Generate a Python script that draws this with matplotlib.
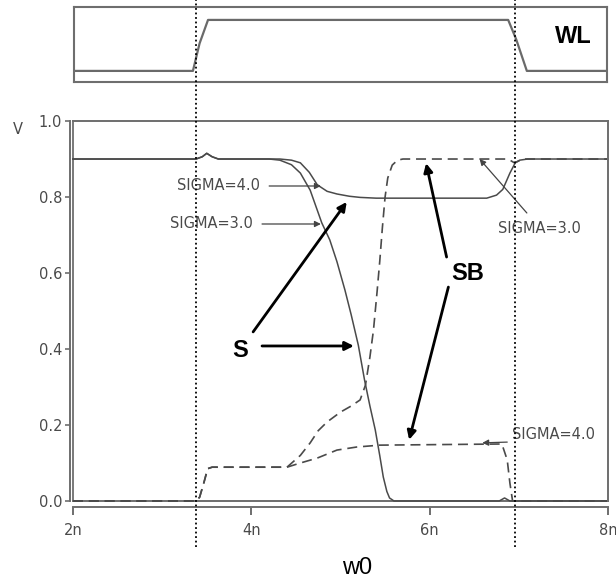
import matplotlib
matplotlib.use("Agg")
import matplotlib.pyplot as plt
from matplotlib.lines import Line2D
from matplotlib.transforms import blended_transform_factory

# word line drive (top panel), time in ns
wl_t = [2.0, 3.34, 3.415, 3.51, 6.89, 6.98, 7.10, 8.0]
wl_v = [0.0, 0.0, 0.54, 1.0, 1.0, 0.62, 0.0, 0.0]

# S node, SIGMA=4.0 (solid)
s4_t = [2.0, 3.38, 3.45, 3.5, 3.56, 3.63, 4.2, 4.32, 4.45, 4.55, 4.65, 4.74,
        4.85, 4.96, 5.1, 5.22, 5.4, 6.64, 6.75, 6.82, 6.9, 6.96, 7.01, 7.1, 8.0]
s4_v = [0.9, 0.9, 0.906, 0.915, 0.906, 0.9, 0.9, 0.9, 0.897, 0.89, 0.865, 0.832,
        0.815, 0.808, 0.802, 0.799, 0.797, 0.797, 0.805, 0.82, 0.863, 0.89, 0.897,
        0.9, 0.9]

# S node, SIGMA=3.0 (solid)
s3_t = [2.0, 3.38, 3.45, 3.5, 3.56, 3.63, 4.2, 4.32, 4.45, 4.55, 4.66, 4.79,
        4.88, 4.96, 5.05, 5.12, 5.2, 5.27, 5.33, 5.39, 5.44, 5.48, 5.52, 5.55,
        5.6, 6.78, 6.84, 6.9, 8.0]
s3_v = [0.9, 0.9, 0.906, 0.915, 0.906, 0.9, 0.9, 0.897, 0.885, 0.863, 0.818, 0.732,
        0.687, 0.63, 0.555, 0.49, 0.41, 0.318, 0.25, 0.187, 0.12, 0.063, 0.025, 0.008,
        0.0, 0.0, 0.008, 0.0, 0.0]

# SB node, SIGMA=3.0 (dashed)
sb3_t = [2.0, 3.38, 3.42, 3.47, 3.51, 3.56, 4.40, 4.55, 4.66, 4.75, 4.85, 5.0,
         5.12, 5.22, 5.28, 5.33, 5.37, 5.41, 5.44, 5.47, 5.5, 5.53, 5.58, 5.64,
         5.7, 6.88, 6.95, 7.05, 8.0]
sb3_v = [0.0, 0.0, 0.01, 0.05, 0.085, 0.089, 0.089, 0.12, 0.153, 0.185, 0.208, 0.234,
         0.25, 0.266, 0.305, 0.379, 0.45, 0.55, 0.63, 0.72, 0.80, 0.85, 0.884, 0.897,
         0.9, 0.9, 0.89, 0.9, 0.9]

# SB node, SIGMA=4.0 (dashed)
sb4_t = [2.0, 3.38, 3.42, 3.47, 3.51, 3.56, 4.40, 4.55, 4.74, 4.96, 5.18, 5.44,
         6.81, 6.87, 6.9, 6.93, 8.0]
sb4_v = [0.0, 0.0, 0.01, 0.05, 0.085, 0.089, 0.089, 0.10, 0.113, 0.134, 0.142, 0.147,
         0.15, 0.108, 0.047, 0.0, 0.0]

x_ticks = [2, 4, 6, 8]
x_ticklabels = ["2n", "4n", "6n", "8n"]
y_ticks = [0.0, 0.2, 0.4, 0.6, 0.8, 1.0]
wl_edges = [3.379, 6.957]   # dotted markers at the WL transitions

FRAME = "#6e6e6e"
TRACE = "#4a4a4a"
TXT = "#4a4a4a"
thin = "DejaVu Sans"
bold = "Liberation Sans"

fig = plt.figure(figsize=(6.16, 5.81), dpi=100)

# ---- WL panel
axw = fig.add_axes([0.120, 0.859, 0.865, 0.129])
axw.plot(wl_t, wl_v, color="#6a6a6a", lw=1.6)
axw.set_xlim(2, 8)
axw.set_ylim(-0.216, 1.254)
axw.set_xticks([]); axw.set_yticks([])
for sp in axw.spines.values():
    sp.set_color(FRAME); sp.set_linewidth(1.5)
axw.text(0.937, 0.6, "WL", transform=axw.transAxes, ha="center", va="center",
         fontsize=17, fontweight="bold", family=bold)

# ---- main panel
ax = fig.add_axes([0.1185, 0.1377, 0.8685, 0.654])
ax.plot(s4_t, s4_v, color=TRACE, lw=1.1, clip_on=False)
ax.plot(s3_t, s3_v, color=TRACE, lw=1.1, clip_on=False)
ax.plot(sb3_t, sb3_v, color=TRACE, lw=1.2, dashes=(6, 3.5), clip_on=False)
ax.plot(sb4_t, sb4_v, color=TRACE, lw=1.2, dashes=(6, 3.5), clip_on=False)
ax.set_xlim(2, 8)
ax.set_ylim(0, 1.0)

ax.axhline(0, color=FRAME, lw=1.4, clip_on=False, zorder=1)
ax.axvline(2, color=FRAME, lw=1.3, clip_on=False, zorder=1)
for sp in ax.spines.values():
    sp.set_color(FRAME); sp.set_linewidth(1.4)
ax.spines["left"].set_position(("outward", 2.3))
ax.spines["bottom"].set_position(("outward", 4.5))

ax.set_xticks(x_ticks)
ax.set_xticklabels(x_ticklabels)
ax.set_yticks(y_ticks)
ax.set_yticklabels([f"{v:.1f}" for v in y_ticks])
ax.tick_params(axis="x", length=6, width=1.4, color=FRAME, pad=5,
               labelsize=10.5, labelcolor=TXT)
ax.tick_params(axis="y", length=3.5, width=1.2, color=FRAME, pad=2,
               labelsize=10.5, labelcolor=TXT)
for lab in ax.get_xticklabels() + ax.get_yticklabels():
    lab.set_family(thin)

fig.text(18 / 616, 1 - 130 / 581, "V", ha="center", va="center",
         fontsize=10.5, color=TXT, family=thin)
fig.text(357 / 616, 1 - 568 / 581, "w0", ha="center", va="center",
         fontsize=17, family=bold)

# dotted WL transition markers across both panels
tr = blended_transform_factory(ax.transData, fig.transFigure)
for xe in wl_edges:
    fig.add_artist(Line2D([xe, xe], [0.0585, 1.0], transform=tr, color="black",
                          lw=1.3, linestyle=(0, (1, 1.5))))

# SIGMA labels (thin gray arrows)
thin_arrow = dict(arrowstyle="-|>", lw=0.9, color="#444444", mutation_scale=9,
                  shrinkA=0, shrinkB=0)
ax.annotate("", xy=(4.78, 0.829), xytext=(4.20, 0.829), arrowprops=thin_arrow)
ax.text(4.10, 0.829, "SIGMA=4.0", ha="right", va="center", fontsize=10.5,
        color=TXT, family=thin)
ax.annotate("", xy=(4.78, 0.729), xytext=(4.12, 0.729), arrowprops=thin_arrow)
ax.text(4.02, 0.729, "SIGMA=3.0", ha="right", va="center", fontsize=10.5,
        color=TXT, family=thin)
ax.annotate("", xy=(6.56, 0.9), xytext=(7.09, 0.758), arrowprops=thin_arrow)
ax.text(7.23, 0.716, "SIGMA=3.0", ha="center", va="center", fontsize=10.5,
        color=TXT, family=thin)
ax.annotate("", xy=(6.59, 0.153), xytext=(6.87, 0.155), arrowprops=thin_arrow)
ax.text(6.92, 0.174, "SIGMA=4.0", ha="left", va="center", fontsize=10.5,
        color=TXT, family=thin)

# S / SB callouts (thick black arrows)
big_arrow = dict(arrowstyle="-|>", lw=2.0, color="black", mutation_scale=13,
                 shrinkA=0, shrinkB=0)
ax.text(3.87, 0.397, "S", ha="center", va="center", fontsize=17,
        fontweight="bold", family=bold)
ax.annotate("", xy=(5.07, 0.787), xytext=(4.02, 0.445), arrowprops=big_arrow)
ax.annotate("", xy=(5.15, 0.408), xytext=(4.12, 0.408), arrowprops=big_arrow)
ax.text(6.43, 0.60, "SB", ha="center", va="center", fontsize=17,
        fontweight="bold", family=bold)
ax.annotate("", xy=(5.96, 0.889), xytext=(6.19, 0.642), arrowprops=big_arrow)
ax.annotate("", xy=(5.77, 0.161), xytext=(6.21, 0.563), arrowprops=big_arrow)

fig.savefig("out.png", dpi=100)
